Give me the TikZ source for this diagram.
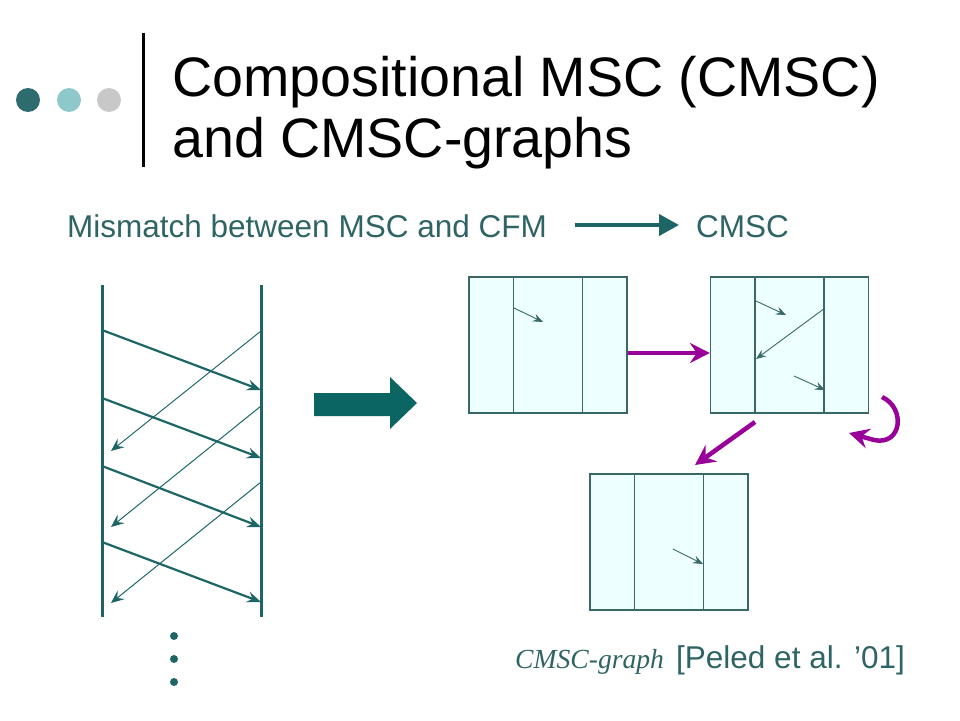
\documentclass[tikz,border=0pt]{standalone}
\usepackage{fontspec}
\setmainfont{Liberation Sans}
\newfontfamily\capfont{Liberation Serif}
\usetikzlibrary{arrows.meta,calc}
\definecolor{tealtext}{HTML}{2F6464}
\definecolor{tealline}{HTML}{1E6666}
\definecolor{boxline}{HTML}{3A6868}
\definecolor{boxfill}{HTML}{EEFFFF}
\definecolor{purp}{HTML}{990099}
\definecolor{blockarrow}{HTML}{0B6663}
\definecolor{dotA}{HTML}{2E6B6E}
\definecolor{dotB}{HTML}{8FC8CB}
\definecolor{dotC}{HTML}{C8C8C8}
\begin{document}
\begin{tikzpicture}[x=1pt,y=-1pt,
  txt/.style={inner sep=0pt,anchor=base west},
  lifeline/.style={draw=tealline,line width=3pt},
  thickmsg/.style={draw=tealline,line width=2.2pt,-{Stealth[length=14pt,width=11pt,inset=5pt]}},
  thinmsg/.style={draw=tealline,line width=1pt,-{Stealth[length=13pt,width=11pt,inset=5pt]}},
  smallmsg/.style={draw=boxline,line width=0.9pt,-{Stealth[length=10pt,width=8pt,inset=3.5pt]}},
  cbox/.style={draw=boxline,fill=boxfill,line width=1.2pt,minimum width=158pt,minimum height=136pt,inner sep=0pt},
  cline/.style={draw=boxline,line width=1.2pt},
  purparrow/.style={draw=purp,line width=4.5pt,-{Stealth[length=20pt,width=20pt,inset=7pt]}}]
\useasboundingbox (0,0) rectangle (960,720);
% header decoration
\fill[dotA] (28,100) circle[radius=12pt];
\fill[dotB] (69,100) circle[radius=12pt];
\fill[dotC] (109,100) circle[radius=12pt];
\draw[black,line width=3pt] (143,33) -- (143,167);
\node[txt,font=\fontsize{55.6}{60}\selectfont] (t1) at (172,96) {Compositional MSC (CMSC)};
\node[txt,font=\fontsize{55.6}{60}\selectfont] (t2) at (172,157) {and CMSC-graphs};
% subtitle
\node[txt,text=tealtext,font=\fontsize{31.5}{36}\selectfont] (sub) at (67,237) {Mismatch between MSC and CFM};
\node[txt,text=tealtext,font=\fontsize{31.5}{36}\selectfont] (cm) at (696,237) {CMSC};
\coordinate (sa) at (575,225);
\coordinate (sb) at (679,225);
\draw[draw=tealline,line width=4pt,-{Triangle[length=20pt,width=21pt]}] (sa) -- (sb);
% left MSC
\coordinate (p1t) at (102,285); \coordinate (p1b) at (102,617);
\coordinate (p2t) at (261,285); \coordinate (p2b) at (261,617);
\draw[lifeline] (p1t) -- (p1b);
\draw[lifeline] (p2t) -- (p2b);
\foreach \a/\b in {330/390,398/458,466/527,542/602}{
  \draw[thickmsg] (102,\a) -- (261,\b);
}
\foreach \a/\b in {331/451,406/527,482/603}{
  \draw[thinmsg] (261,\a) -- (111,\b);
}
\fill[tealline] (174,636) circle[radius=4pt];
\fill[tealline] (174,659) circle[radius=4pt];
\fill[tealline] (174,682) circle[radius=4pt];
% block arrow
\fill[blockarrow] (314,393) -- (390,393) -- (390,377) -- (417,403) -- (390,429) -- (390,416) -- (314,416) -- cycle;
% CMSC boxes
\node[cbox] (b1) at (548,345) {};
\node[cbox] (b2) at (789.5,345) {};
\node[cbox] (b3) at (669,542) {};
\foreach \b in {b1,b2,b3}{
  \draw[cline] ($(\b.north west)+(45,0)$) -- ($(\b.south west)+(45,0)$);
  \draw[cline] ($(\b.north west)+(114,0)$) -- ($(\b.south west)+(114,0)$);
}
\draw[smallmsg] (514,308) -- (543,322);
\draw[smallmsg] (756,301) -- (786,315);
\draw[smallmsg] (825,308) -- (756,359);
\draw[smallmsg] (794,376) -- (825,390);
\draw[smallmsg] (673,549) -- (703,564);
% purple transitions
\draw[purparrow] ([yshift=-8pt]b1.east) -- ([yshift=-8pt]b2.west);
\coordinate (da) at (755,422);
\coordinate (db) at (695,465);
\draw[purparrow] (da) -- (db);
\coordinate (la) at (882,397);
\coordinate (lb) at (849,433);
\draw[purparrow] (la) .. controls (906,408) and (902,446) .. (874,440) -- (lb);
% caption
\node[txt,text=tealtext,font=\capfont\itshape\fontsize{27.6}{32}\selectfont] (cap1) at (515,668) {CMSC-graph};
\node[txt,text=tealtext,font=\fontsize{31.5}{36}\selectfont] (cap2) at (676,668) {[Peled et al. ’01]};
\end{tikzpicture}
\end{document}
